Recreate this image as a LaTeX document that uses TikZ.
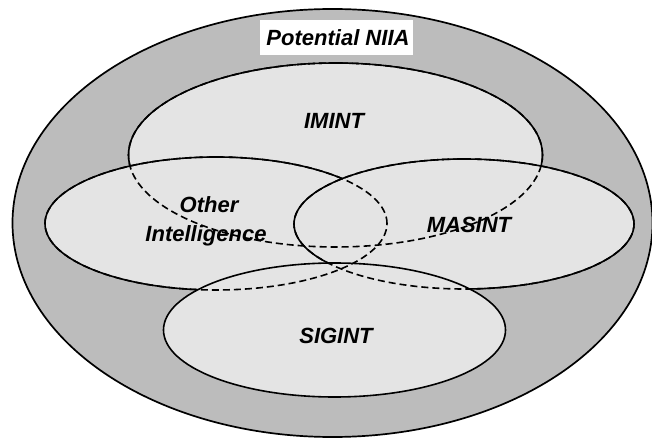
\documentclass[tikz,border=0pt]{standalone}
\usepackage{fontspec}
\setmainfont{Liberation Sans}
\definecolor{ringgray}{RGB}{188,188,188}
\definecolor{setgray}{RGB}{228,228,228}

% full ellipse path, counter-clockwise: centre x, centre y, x radius, y radius
\newcommand\ellpath[4]{(#1+#3,#2) arc[start angle=0,end angle=360,x radius=#3,y radius=#4]}
% clip to everything outside the given ellipse (clockwise frame + ccw ellipse)
\newcommand\clipout[4]{\clip (-1000,-1000) -- (-1000,2000) -- (2000,2000) -- (2000,-1000) -- cycle \ellpath{#1}{#2}{#3}{#4};}

\begin{document}
\begin{tikzpicture}[x=1pt,y=1pt,
  edge/.style={line width=1.6pt,black},
  hidden/.style={line width=1.6pt,black,dash pattern=on 7pt off 4pt},
  lbl/.style={font=\fontsize{22}{26}\selectfont\bfseries\itshape,inner sep=0pt,anchor=base}]

  \fill[white] (0,0) rectangle (652,439);

  % outer region
  \filldraw[fill=ringgray,line width=1.7pt] \ellpath{332.5}{216}{320}{214};

  % the four sets
  \fill[setgray] \ellpath{335.5}{284}{207}{92};
  \fill[setgray] \ellpath{216}{215.5}{171}{66.5};
  \fill[setgray] \ellpath{464}{215}{170}{65};
  \fill[setgray] \ellpath{334.5}{109}{171}{67};

  % hidden outlines
  \draw[hidden] \ellpath{335.5}{284}{207}{92};
  \draw[hidden] \ellpath{216}{215.5}{171}{66.5};
  \draw[hidden] \ellpath{464}{215}{170}{65};

  % visible outlines
  \begin{scope}
    \clipout{216}{215.5}{171}{66.5}
    \clipout{464}{215}{170}{65}
    \draw[edge] \ellpath{335.5}{284}{207}{92};
  \end{scope}
  \begin{scope}
    \clipout{464}{215}{170}{65}
    \clipout{334.5}{109}{171}{67}
    \draw[edge] \ellpath{216}{215.5}{171}{66.5};
  \end{scope}
  \begin{scope}
    \clipout{334.5}{109}{171}{67}
    \draw[edge] \ellpath{464}{215}{170}{65};
  \end{scope}
  \draw[edge] \ellpath{334.5}{109}{171}{67};

  % title box and labels
  \node[fill=white,minimum width=153pt,minimum height=35pt,inner sep=0pt] (titlebox) at (336.5,401.5) {};
  \node[lbl] (title) at (338,393) {Potential NIIA};
  \node[lbl] (imint) at (334,310) {IMINT};
  \node[lbl] (other) at (209,226) {Other};
  \node[lbl] (intel) at (206,197) {Intelligence};
  \node[lbl] (masint) at (469,206) {MASINT};
  \node[lbl] (sigint) at (336,96) {SIGINT};

  \pgfresetboundingbox
  \useasboundingbox (0,0) rectangle (652,439);
\end{tikzpicture}
\end{document}
